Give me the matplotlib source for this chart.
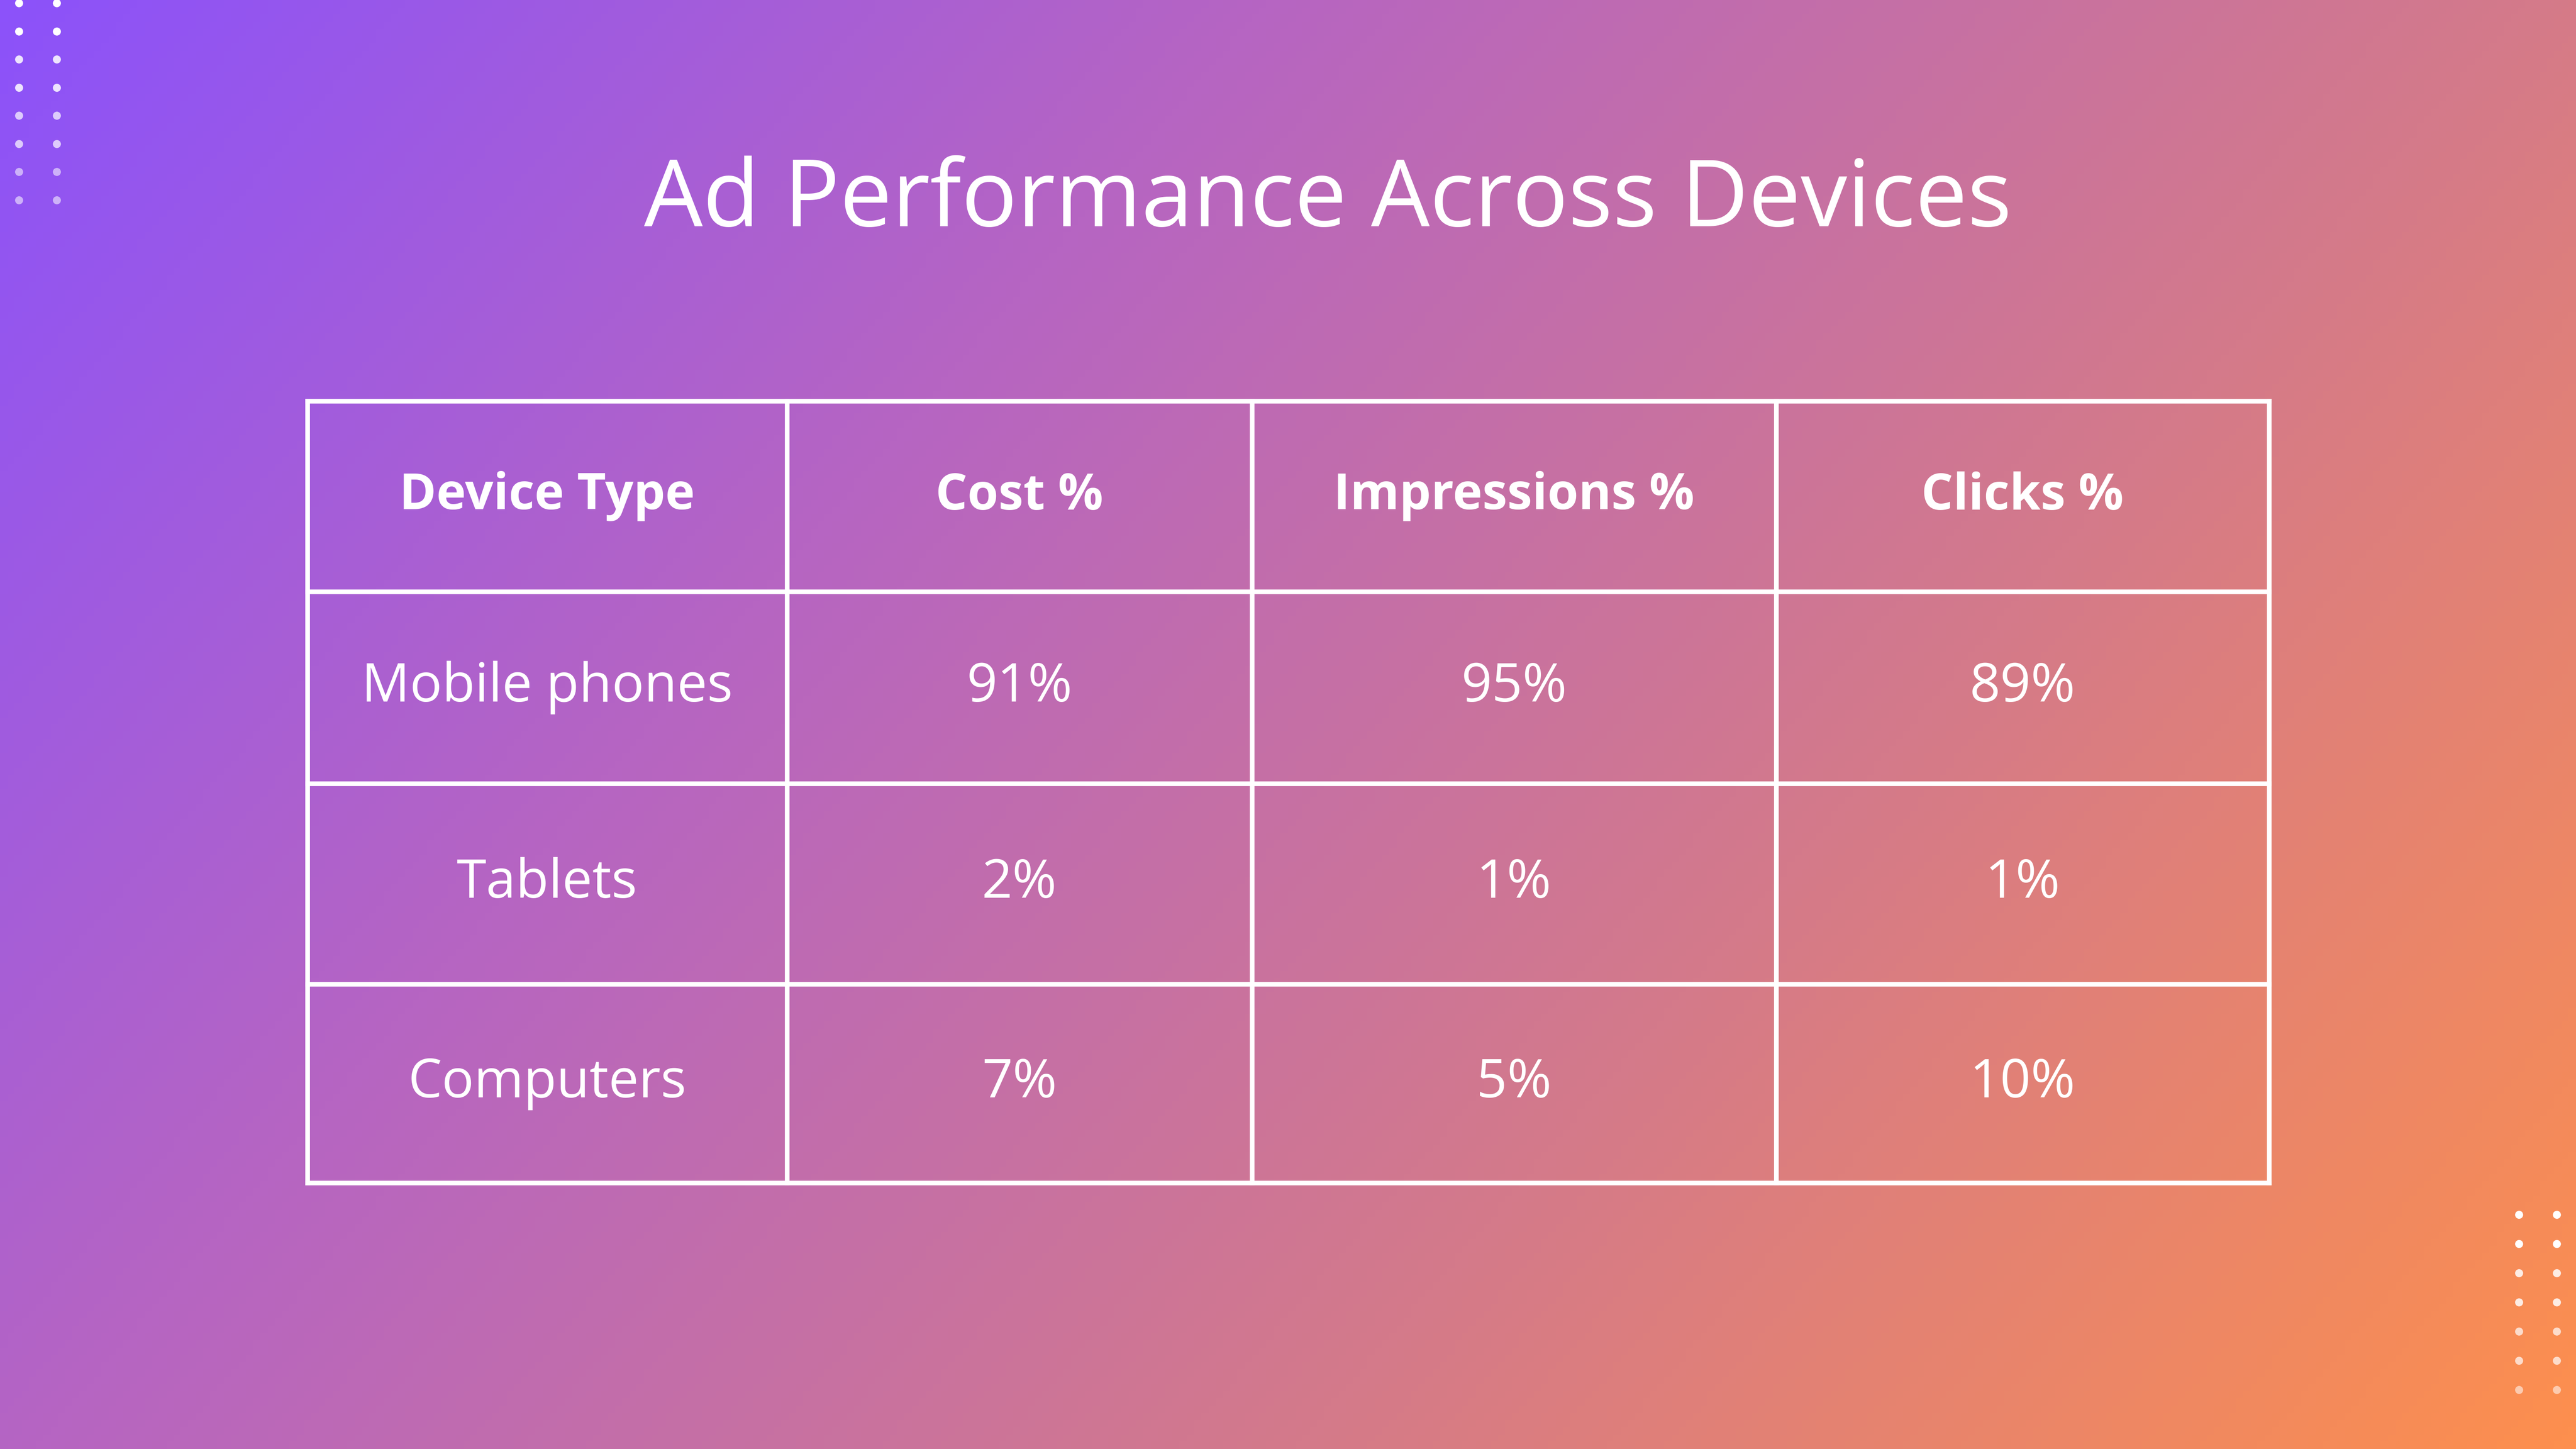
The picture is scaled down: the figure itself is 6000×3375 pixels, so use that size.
import numpy as np
import matplotlib
matplotlib.use("Agg")
import matplotlib.pyplot as plt
from matplotlib.colors import LinearSegmentedColormap

title = "Ad Performance Across Devices"
headers = ["Device Type", "Cost %", "Impressions %", "Clicks %"]
devices = ["Mobile phones", "Tablets", "Computers"]
cost = ["91%", "2%", "7%"]
impressions = ["95%", "1%", "5%"]
clicks = ["89%", "1%", "10%"]

W, H = 6000, 3375
fig = plt.figure(figsize=(20, 11.25), dpi=300)
ax = fig.add_axes([0, 0, 1, 1])
ax.set_xlim(0, W); ax.set_ylim(H, 0); ax.axis("off")

# background gradient
cmap = LinearSegmentedColormap.from_list("g", ["#8C52FA", "#B665C2", "#D47A8A", "#FD8F4E"])
yy, xx = np.mgrid[0:1:200j, 0:1:356j]
t = (xx * W * 1.0 + yy * H * 0.85) / (W * 1.0 + H * 0.85)
ax.imshow(t, cmap=cmap, extent=[0, W, H, 0], aspect="auto", zorder=0)

# decorative dots
for i in range(8):
    a = [1, 1, .85, .85, .7, .7, .55, .55][i]
    for x in (44, 132):
        ax.plot(x, 7 + i * 65.5, "o", ms=4.5, color="white", alpha=a, mec="none", zorder=2)
for i in range(7):
    a = [1, 1, .85, .85, .7, .7, .55][i]
    for x in (5867, 5955):
        ax.plot(x, 2829 + i * 68, "o", ms=4.5, color="white", alpha=a, mec="none", zorder=2)

ax.text(3093, 471, title, ha="center", va="center", color="white",
        fontsize=52, family="Open Sans", fontweight="normal", zorder=3)

xs = [716, 1833, 2916, 4137, 5285]
ys = [934, 1378, 1825, 2292, 2755]
for x in xs:
    ax.plot([x, x], [ys[0], ys[-1]], color="white", lw=2.6, solid_capstyle="projecting", zorder=3)
for y in ys:
    ax.plot([xs[0], xs[-1]], [y, y], color="white", lw=2.6, solid_capstyle="projecting", zorder=3)

rows = [headers] + [[d, c, i, k] for d, c, i, k in zip(devices, cost, impressions, clicks)]
for r, row in enumerate(rows):
    cy = (ys[r] + ys[r + 1]) / 2
    for c, val in enumerate(row):
        cx = (xs[c] + xs[c + 1]) / 2
        ax.text(cx, cy, val, ha="center", va="center", color="white",
                fontsize=28 if r == 0 else 30, family="Open Sans",
                fontweight="bold" if r == 0 else "normal", zorder=4)

fig.savefig("out.png", dpi=300)
